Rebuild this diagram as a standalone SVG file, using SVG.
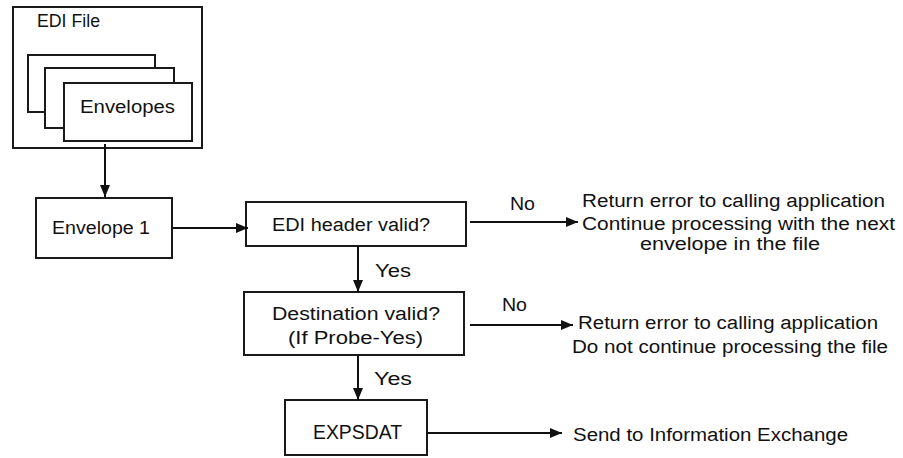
<svg xmlns="http://www.w3.org/2000/svg" width="903" height="458" viewBox="0 0 903 458">
<defs>
<style>
.box{fill:#fff;stroke:#1a1a1a;stroke-width:2}
.ln{fill:none;stroke:#111;stroke-width:2}
text{font-family:"Liberation Sans",Arial,sans-serif;font-size:18px;fill:#111}
.big{font-size:20px}
</style>
<marker id="ah" viewBox="0 0 12 10" refX="12" refY="5" markerWidth="12" markerHeight="10" markerUnits="userSpaceOnUse" orient="auto">
<path d="M0,0 L12,5 L0,10 Z" fill="#111"/>
</marker>
</defs>
<rect width="903" height="458" fill="#fff"/>
<g id="edi-file">
<rect class="box" x="13" y="7" width="189" height="141"/>
<text x="37" y="27" textLength="63" lengthAdjust="spacingAndGlyphs">EDI File</text>
<rect class="box" x="28" y="55" width="127" height="57"/>
<rect class="box" x="45" y="68" width="129" height="60"/>
<rect class="box" x="64" y="83" width="128" height="58"/>
<text x="80" y="113" textLength="95" lengthAdjust="spacingAndGlyphs">Envelopes</text>
</g>
<g id="envelope1">
<rect class="box" x="36" y="198" width="136" height="60"/>
<text x="52" y="234" textLength="98" lengthAdjust="spacingAndGlyphs">Envelope 1</text>
</g>
<g id="header">
<rect class="box" x="246" y="202" width="220" height="44"/>
<text x="272" y="231" textLength="158" lengthAdjust="spacingAndGlyphs">EDI header valid?</text>
</g>
<g id="destination">
<rect class="box" x="244" y="292" width="220" height="63"/>
<text x="272" y="320" textLength="168" lengthAdjust="spacingAndGlyphs">Destination valid?</text>
<text x="288" y="344" textLength="135" lengthAdjust="spacingAndGlyphs">(If Probe-Yes)</text>
</g>
<g id="expsdat">
<rect class="box" x="285" y="400" width="142" height="55"/>
<text class="big" x="313" y="439" textLength="89" lengthAdjust="spacingAndGlyphs">EXPSDAT</text>
</g>
<g id="out1">
<text x="582" y="207" textLength="303" lengthAdjust="spacingAndGlyphs">Return error to calling application</text>
<text x="582" y="230" textLength="313" lengthAdjust="spacingAndGlyphs">Continue processing with the next</text>
<text x="640" y="250" textLength="180" lengthAdjust="spacingAndGlyphs">envelope in the file</text>
</g>
<g id="out2">
<text x="578" y="329" textLength="300" lengthAdjust="spacingAndGlyphs">Return error to calling application</text>
<text x="572" y="353" textLength="316" lengthAdjust="spacingAndGlyphs">Do not continue processing the file</text>
</g>
<g id="out3">
<text x="573" y="441" textLength="275" lengthAdjust="spacingAndGlyphs">Send to Information Exchange</text>
</g>
<g id="connectors">
<line class="ln" x1="105" y1="144" x2="105" y2="197" marker-end="url(#ah)"/>
<line class="ln" x1="172" y1="228" x2="248" y2="228" marker-end="url(#ah)"/>
<line class="ln" x1="358" y1="246" x2="358" y2="292" marker-end="url(#ah)"/>
<text x="375" y="277" textLength="36" lengthAdjust="spacingAndGlyphs">Yes</text>
<line class="ln" x1="358" y1="355" x2="358" y2="400" marker-end="url(#ah)"/>
<text x="374" y="385" textLength="38" lengthAdjust="spacingAndGlyphs">Yes</text>
<line class="ln" x1="470" y1="222" x2="578" y2="222" marker-end="url(#ah)"/>
<text x="510" y="210" textLength="25" lengthAdjust="spacingAndGlyphs">No</text>
<line class="ln" x1="470" y1="325" x2="573" y2="325" marker-end="url(#ah)"/>
<text x="502" y="311" textLength="25" lengthAdjust="spacingAndGlyphs">No</text>
<line class="ln" x1="427" y1="433" x2="562" y2="433" marker-end="url(#ah)"/>
</g>
</svg>
